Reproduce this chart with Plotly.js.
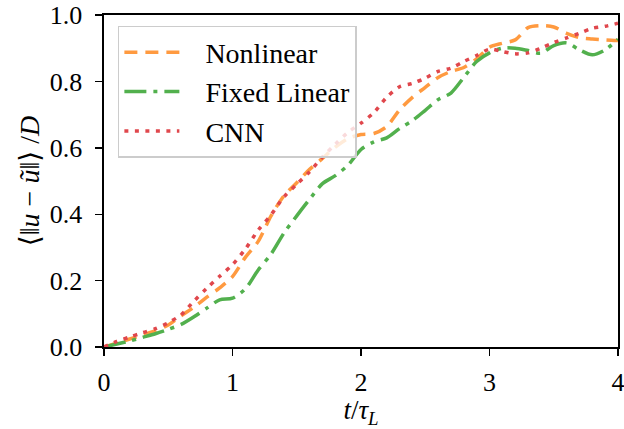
<!DOCTYPE html>
<html>
<head>
<meta charset="utf-8">
<script src="https://cdn.plot.ly/plotly-3.0.1.min.js"></script>
<style>html,body{margin:0;padding:0;background:#fff}#chart{width:624px;height:429px}</style>
</head>
<body>
<div id="chart"></div>
<script>
const t = [0,0.1,0.2,0.3,0.4,0.5,0.6,0.7,0.8,0.9,1.0,1.1,1.2,1.3,1.4,1.5,1.6,1.7,1.8,1.9,2.0,2.1,2.2,2.3,2.4,2.5,2.6,2.7,2.8,2.9,3.0,3.1,3.2,3.3,3.4,3.5,3.6,3.7,3.8,3.9,4.0];
const nonlinear = [0,0.012,0.024,0.036,0.049,0.066,0.094,0.12,0.15,0.178,0.212,0.27,0.318,0.395,0.455,0.495,0.535,0.568,0.602,0.628,0.64,0.643,0.664,0.714,0.752,0.782,0.812,0.83,0.842,0.868,0.903,0.915,0.925,0.962,0.968,0.964,0.945,0.932,0.928,0.925,0.923];
const fixedLinear = [0,0.009,0.018,0.029,0.04,0.053,0.068,0.091,0.117,0.142,0.147,0.175,0.232,0.28,0.343,0.395,0.445,0.492,0.516,0.548,0.595,0.618,0.63,0.658,0.682,0.713,0.745,0.765,0.812,0.86,0.886,0.9,0.9,0.893,0.885,0.908,0.916,0.895,0.88,0.895,0.927];
const cnn = [0,0.017,0.03,0.043,0.055,0.073,0.097,0.138,0.177,0.213,0.248,0.295,0.352,0.398,0.452,0.49,0.528,0.572,0.611,0.647,0.674,0.706,0.752,0.784,0.794,0.81,0.83,0.84,0.86,0.878,0.897,0.89,0.883,0.886,0.9,0.917,0.931,0.945,0.96,0.966,0.975];
const names = ["Nonlinear","Fixed Linear","CNN"];
const xTicks = [0,1,2,3,4];
const yTicks = [0,0.2,0.4,0.6,0.8,1.0];

const font = "'Liberation Serif', 'DejaVu Serif', serif";
const pad = "\u00a0\u00a0\u00a0";
const traces = [
  {x:t, y:nonlinear, name:pad+names[0], mode:"lines", line:{color:"#ff9a40", width:3.5, dash:"13px,8px", shape:"spline", smoothing:0.8}},
  {x:t, y:fixedLinear, name:pad+names[1], mode:"lines", line:{color:"#52b04d", width:3.5, dash:"22px,7px,4px,7px", shape:"spline", smoothing:0.8}},
  {x:t, y:cnn, name:pad+names[2], mode:"lines", line:{color:"#e0474c", width:3.5, dash:"4px,6.5px", shape:"spline", smoothing:0.8}}
];
const axisCommon = {showgrid:false, zeroline:false, showline:true, mirror:true, linecolor:"#000", linewidth:1.6,
  ticks:"outside", ticklen:7, tickwidth:1.4, tickcolor:"#000", ticklabeloverflow:"allow",
  tickfont:{family:font, size:26, color:"#000"}};
const layout = {
  width:624, height:429,
  margin:{l:104, r:6, t:15, b:82},
  paper_bgcolor:"#fff", plot_bgcolor:"#fff",
  font:{family:font, color:"#000"},
  showlegend:true,
  legend:{x:0.027, y:0.967, xanchor:"left", yanchor:"top", bgcolor:"rgba(255,255,255,0.8)",
    bordercolor:"#cccccc", borderwidth:1.5, font:{family:font, size:28, color:"#000"},
    itemwidth:55, tracegroupgap:0},
  xaxis:Object.assign({}, axisCommon, {range:[0,4], tickvals:xTicks, ticktext:xTicks.map(v=>v.toFixed(0)),
    ticklabelstandoff:4,
    title:{text:"<i>t</i>/<i>τ</i><sub><i>L</i></sub>", font:{family:font, size:27, color:"#000"}, standoff:6}}),
  yaxis:Object.assign({}, axisCommon, {range:[0,1], tickvals:yTicks, ticktext:yTicks.map(v=>v.toFixed(1)),
    ticklabelstandoff:8,
    title:{text:"⟨‖<i>u</i> − <i>ũ</i>‖⟩ /<i>D</i>", font:{family:font, size:28, color:"#000"}, standoff:2}})
};
Plotly.newPlot("chart", traces, layout, {displayModeBar:false, staticPlot:true});
</script>
</body>
</html>
